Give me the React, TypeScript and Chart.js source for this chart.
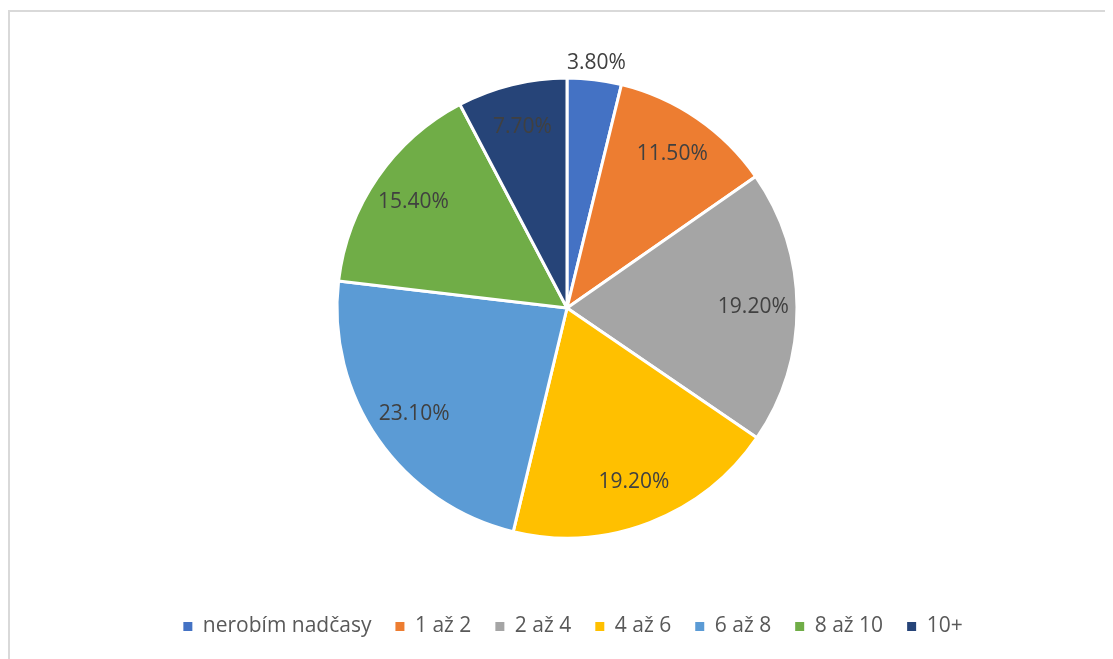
import React, { useEffect, useRef } from "react";
import { Chart, registerables } from "chart.js";

Chart.register(...registerables);

const categories: string[] = ["nerobím nadčasy", "1 až 2", "2 až 4", "4 až 6", "6 až 8", "8 až 10", "10+"];
const values: number[] = [3.8, 11.5, 19.2, 19.2, 23.1, 15.4, 7.7];
const colors: string[] = ["#4472C4", "#ED7D31", "#A5A5A5", "#FFC000", "#5B9BD5", "#70AD47", "#264478"];

const FONT = "'Open Sans', 'Liberation Sans', sans-serif";

const labelPlugin = {
  id: "sliceLabels",
  afterLayout(chart: any) {
    if (chart.legend) chart.legend.left += 12;
  },
  afterDatasetsDraw(chart: any) {
    const ctx = chart.ctx;
    const meta = chart.getDatasetMeta(0);
    const data = chart.data.datasets[0].data as number[];
    ctx.save();
    ctx.font = `21px ${FONT}`;
    ctx.fillStyle = "#404040";
    ctx.textAlign = "center";
    ctx.textBaseline = "middle";
    meta.data.forEach((arc: any, i: number) => {
      const p = arc.getProps(["x", "y", "startAngle", "endAngle", "outerRadius"], true);
      const mid = (p.startAngle + p.endAngle) / 2;
      const v = data[i];
      const r = v < 5 ? p.outerRadius + 17 : p.outerRadius * 0.81;
      const tx = p.x + Math.cos(mid) * r;
      const ty = p.y + Math.sin(mid) * r;
      ctx.fillText(v.toFixed(2) + "%", tx, ty);
    });
    ctx.restore();
  },
};

export default function App() {
  const ref = useRef<HTMLCanvasElement | null>(null);
  useEffect(() => {
    document.documentElement.style.overflow = "hidden";
    document.body.style.overflow = "hidden";
    if (!ref.current) return;
    const baseGen = (Chart as any).overrides.pie.plugins.legend.labels.generateLabels;
    const chart = new Chart(ref.current, {
      type: "pie",
      data: {
        labels: categories,
        datasets: [
          {
            data: values,
            backgroundColor: colors,
            borderColor: "#ffffff",
            borderWidth: 3,
            radius: 230,
          } as any,
        ],
      },
      options: {
        responsive: false,
        animation: false,
        layout: { padding: { top: 12, left: 11, bottom: 12, right: 0 } },
        plugins: {
          tooltip: { enabled: false },
          legend: {
            position: "bottom",
            labels: {
              boxWidth: 9,
              boxHeight: 9,
              padding: 24,
              color: "#595959",
              font: { family: FONT, size: 21 },
              generateLabels: (c: any) =>
                baseGen(c).map((l: any) => ({ ...l, lineWidth: 0, strokeStyle: l.fillStyle })),
            },
          },
        },
      },
      plugins: [labelPlugin],
    });
    return () => chart.destroy();
  }, []);
  return (
    <div style={{ paddingTop: 2 }}>
      <div
        style={{
          borderTop: "2px solid #d9d9d9",
          borderLeft: "2px solid #d9d9d9",
          width: 1103,
          height: 647,
        }}
      >
        <canvas ref={ref} width={1103} height={647} style={{ display: "block" }} />
      </div>
    </div>
  );
}
